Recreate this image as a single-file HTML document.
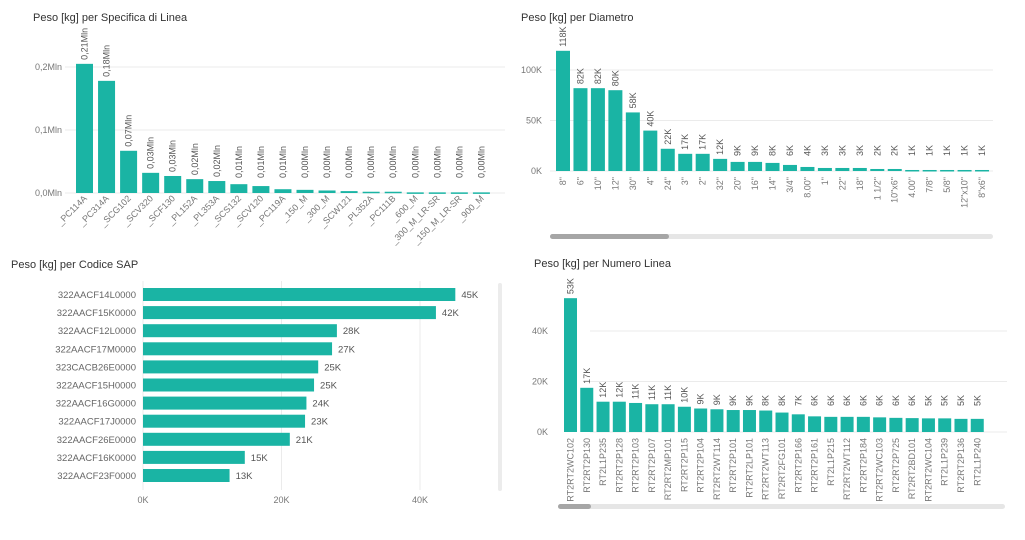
<!DOCTYPE html>
<html><head><meta charset="utf-8">
<style>
body{margin:0;background:#fff;width:1025px;height:540px;overflow:hidden;font-family:"Liberation Sans",sans-serif}
svg{position:absolute;left:0;top:0}
text{font-family:"Liberation Sans",sans-serif}
</style></head><body>
<svg id="s" width="1025" height="540"></svg>
<script>
const c1Cats=["_PC114A","_PC314A","_SCG102","_SCV320","_SCF130","_PL152A","_PL353A","_SCS132","_SCV120","_PC119A","_150_M","_300_M","_SCW121","_PL352A","_PC111B","_600_M","_300_M_LR-SR","_150_M_LR-SR","_900_M"];
const c1Vals=[0.205,0.178,0.067,0.032,0.027,0.022,0.019,0.014,0.011,0.006,0.005,0.004,0.003,0.002,0.002,0.001,0.001,0.001,0.001];
const c1Labels=["0,21Mln","0,18Mln","0,07Mln","0,03Mln","0,03Mln","0,02Mln","0,02Mln","0,01Mln","0,01Mln","0,01Mln","0,00Mln","0,00Mln","0,00Mln","0,00Mln","0,00Mln","0,00Mln","0,00Mln","0,00Mln","0,00Mln"];
const c1Ticks=[0,0.1,0.2];const c1TickLabels=["0,0Mln","0,1Mln","0,2Mln"];
const c2Cats=['8"','6"','10"','12"','30"','4"','24"','3"','2"','32"','20"','16"','14"','3/4"','8.00"','1"','22"','18"','1 1/2"','10"x6"','4.00"','7/8"','5/8"','12"x10"','8"x6"'];
const c2Vals=[119,82,82,80,58,40,22,17,17,12,9,9,8,6,4,3,3,3,2,2,1,1,1,1,1];
const c2Labels=["118K","82K","82K","80K","58K","40K","22K","17K","17K","12K","9K","9K","8K","6K","4K","3K","3K","3K","2K","2K","1K","1K","1K","1K","1K"];
const c2Ticks=[0,50,100];const c2TickLabels=["0K","50K","100K"];
const c3Cats=["322AACF14L0000","322AACF15K0000","322AACF12L0000","322AACF17M0000","323CACB26E0000","322AACF15H0000","322AACF16G0000","322AACF17J0000","322AACF26E0000","322AACF16K0000","322AACF23F0000"];
const c3Vals=[45.1,42.3,28.0,27.3,25.3,24.7,23.6,23.4,21.2,14.7,12.5];
const c3Labels=["45K","42K","28K","27K","25K","25K","24K","23K","21K","15K","13K"];
const c3Ticks=[0,20,40];const c3TickLabels=["0K","20K","40K"];
const c4Cats=["RT2RT2WC102","RT2RT2P130","RT2L1P235","RT2RT2P128","RT2RT2P103","RT2RT2P107","RT2RT2MP101","RT2RT2P115","RT2RT2P104","RT2RT2WT114","RT2RT2P101","RT2RT2LP101","RT2RT2WT113","RT2RT2FG101","RT2RT2P166","RT2RT2P161","RT2L1P215","RT2RT2WT112","RT2RT2P184","RT2RT2WC103","RT2RT2P725","RT2RT2BD101","RT2RT2WC104","RT2L1P239","RT2RT2P136","RT2L1P240"];
const c4Vals=[53,17.5,12,12,11.5,11,11,10,9.3,9,8.7,8.7,8.5,7.7,7,6.2,6,6,6,5.8,5.6,5.5,5.4,5.4,5.2,5.2];
const c4Labels=["53K","17K","12K","12K","11K","11K","11K","10K","9K","9K","9K","9K","8K","8K","7K","6K","6K","6K","6K","6K","6K","6K","5K","5K","5K","5K"];
const c4Ticks=[0,20,40];const c4TickLabels=["0K","20K","40K"];

const S=document.getElementById('s');const NS='http://www.w3.org/2000/svg';
function mk(t,a,p){const e=document.createElementNS(NS,t);for(const k in a)e.setAttribute(k,a[k]);(p||S).appendChild(e);return e;}
const TEAL='#1ab4a4';
function title(x,y,t,n){const e=mk('text',{x:x,y:y,'font-size':11,fill:'#333'});e.textContent=t;

}
function vchart(o){
  const g=mk('g',{});
  
  
  const y=v=>o.y0-(v/o.vmax)*(o.y0-o.ytop);
  o.ticks.forEach((t,i)=>{
    const l=mk('line',{x1:o.gx1,x2:o.gx2,y1:y(t),y2:y(t),stroke:'#ebebeb','stroke-width':1},g);
    
    
    const tx=mk('text',{x:o.lx,y:y(t)+3,'font-size':9,fill:'#777','text-anchor':'end'},g);tx.textContent=o.tickLabels[i];
    
    
  });
  o.vals.forEach((v,i)=>{
    const cx=o.x0+i*o.step+o.bw/2;
    const r=mk('rect',{x:cx-o.bw/2,y:y(v),width:o.bw,height:Math.max(1.5,o.y0-y(v)),fill:TEAL},g);
    
    
    const vl=mk('text',{x:0,y:0,'font-size':9,fill:'#555','transform':`translate(${cx+3},${Math.min(y(v),o.lblMax??9999)-4}) rotate(-90)`},g);vl.textContent=o.labels[i];
    
    
    const cl=mk('text',{x:0,y:0,'font-size':9,fill:'#777','text-anchor':'end','transform':`translate(${cx+3},${o.y0+6}) rotate(${o.rot})`},g);cl.textContent=o.cats[i];
    
    
  });
}
title(33,21,'Peso [kg] per Specifica di Linea','chart1-title');
vchart({name:'chart-specifica',cats:c1Cats,vals:c1Vals,labels:c1Labels,ticks:c1Ticks,tickLabels:c1TickLabels,vmax:0.2,y0:193,ytop:67,gx1:65,gx2:505,lx:62,x0:76,step:22.05,bw:17,rot:-45,lblMax:182});
title(521,21,'Peso [kg] per Diametro','chart2-title');
vchart({name:'chart-diametro',cats:c2Cats,vals:c2Vals,labels:c2Labels,ticks:c2Ticks,tickLabels:c2TickLabels,vmax:100,y0:171,ytop:70,gx1:550,gx2:993,lx:542,x0:556,step:17.46,bw:14,rot:-90,lblMax:160});
title(534,267,'Peso [kg] per Numero Linea','chart4-title');
vchart({name:'chart-numero-linea',cats:c4Cats,vals:c4Vals,labels:c4Labels,ticks:c4Ticks,tickLabels:c4TickLabels,vmax:40,y0:432,ytop:331,gx1:590,gx2:1007,lx:548,x0:564,step:16.27,bw:13,rot:-90,lblMax:410});
[[550,234,443,119,'diametro'],[558,504,447,33,'numero-linea']].forEach(a=>{
  const t=mk('rect',{x:a[0],y:a[1],width:a[2],height:5,rx:2.5,fill:'#e6e6e6'});
  
  
  const h=mk('rect',{x:a[0],y:a[1],width:a[3],height:5,rx:2.5,fill:'#a6a6a6'});
  
  
});
title(11,268,'Peso [kg] per Codice SAP','chart3-title');
(function(){
  const g=mk('g',{});
  
  
  const x0=143,x20=281.5;const x=v=>x0+v*(x20-x0)/20;
  c3Ticks.forEach((t,i)=>{
    const l=mk('line',{x1:x(t),x2:x(t),y1:281,y2:490,stroke:'#ebebeb'},g);
    
    
    const tx=mk('text',{x:x(t),y:503,'font-size':9,fill:'#777','text-anchor':'middle'},g);tx.textContent=c3TickLabels[i];
    
    
  });
  c3Vals.forEach((v,i)=>{
    const yy=288+i*18.1;
    const r=mk('rect',{x:x0,y:yy,width:x(v)-x0,height:13,fill:TEAL},g);
    
    
    const cl=mk('text',{x:136,y:yy+10,'font-size':9.5,fill:'#666','text-anchor':'end'},g);cl.textContent=c3Cats[i];
    
    
    const vl=mk('text',{x:x(v)+6,y:yy+10,'font-size':9.5,fill:'#555'},g);vl.textContent=c3Labels[i];
    
    
  });
  const sb=mk('rect',{x:498,y:283,width:4,height:208,rx:2,fill:'#ececec'},g);
  
  
})();
</script>
</body></html>
